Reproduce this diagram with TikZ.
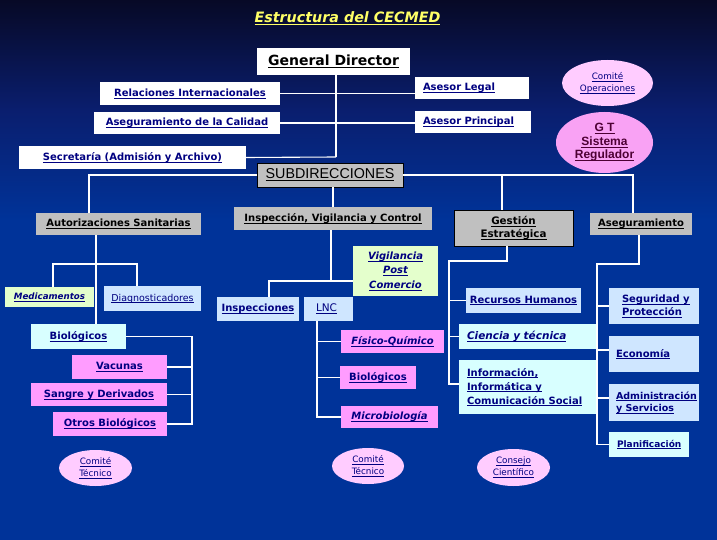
\documentclass[tikz,border=0pt]{standalone}
\usepackage{fontspec}
\setmainfont{DejaVu Sans}
\newfontfamily\lib{Liberation Sans}
\usetikzlibrary{shapes.geometric}
\definecolor{navy}{HTML}{000080}
\definecolor{lgreen}{HTML}{E4FFCC}
\definecolor{lblue}{HTML}{CFE6FF}
\definecolor{lcyan}{HTML}{D8FFFF}
\definecolor{pinkb}{HTML}{FF9CFF}
\definecolor{lpink}{HTML}{FFCCFF}
\definecolor{gtpink}{HTML}{F9A2F4}
\definecolor{greyb}{HTML}{C0C0C0}
\definecolor{bgblue}{HTML}{003399}
\definecolor{bgtop}{HTML}{070926}
\definecolor{bgmid}{HTML}{0A1E6E}
\definecolor{ttl}{HTML}{FFFF66}
\definecolor{gttext}{HTML}{4D0033}
\newcommand\ulx[1]{\leavevmode\setbox0\hbox{#1}\rlap{\vrule height -1.3pt depth 2pt width \wd0}\box0}
\tikzset{
  bx/.style={rectangle, inner sep=0pt, outer sep=0pt, text=navy,
    font=\bfseries\fontsize{10}{12}\selectfont},
  wbox/.style={bx, fill=white},
  gbox/.style={bx, fill=greyb, text=black},
  grbox/.style={bx, fill=lgreen},
  blbox/.style={bx, fill=lblue},
  cybox/.style={bx, fill=lcyan},
  pkbox/.style={bx, fill=pinkb},
  txt/.style={inner sep=0pt, outer sep=0pt, text=navy, anchor=west, align=left},
  ell/.style={ellipse, inner sep=0pt, fill=lpink, text=navy, align=center,
    font=\fontsize{8.8}{12}\selectfont},
  ln/.style={draw=white, line width=1.1pt},
  itb/.style={font=\bfseries\itshape\fontsize{10}{12}\selectfont}
}
\begin{document}
\begin{tikzpicture}[x=1pt,y=-1pt]
\useasboundingbox (0,0) rectangle (717,540);
\shade[top color=bgtop, bottom color=bgmid] (0,0) rectangle (717,110);
\shade[top color=bgmid, bottom color=bgblue] (0,109.5) rectangle (717,220);
\fill[bgblue] (0,219.5) rectangle (717,540);

% title
\node[text=ttl, font=\bfseries\itshape\fontsize{14.3}{17}\selectfont] (title) at (347.5,18) {\ulx{Estructura del CECMED}};

% top level
\node[wbox, text=black, minimum width=153, minimum height=27, font=\bfseries\fontsize{14}{16}\selectfont] (gd) at (333.5,61.5) {\ulx{General Director}};
\node[wbox, minimum width=180, minimum height=23] (rel) at (190,93.5) {\ulx{Relaciones Internacionales}};
\node[wbox, minimum width=186, minimum height=22] (aseg) at (187,123) {\ulx{Aseguramiento de la Calidad}};
\node[wbox, minimum width=227, minimum height=23] (sec) at (132.5,157.5) {\ulx{Secretaría (Admisión y Archivo)}};
\node[wbox, minimum width=114, minimum height=22, text width=98, align=left] (asl) at (472,88) {\ulx{Asesor Legal}};
\node[wbox, minimum width=116, minimum height=22, text width=100, align=left] (asp) at (473,122) {\ulx{Asesor Principal}};

\node[ell, minimum width=91, minimum height=46] (cop) at (607.5,83) {\ulx{Comité}\\\ulx{Operaciones}};
\node[ell, fill=gtpink, text=gttext, minimum width=97, minimum height=61, font=\lib\bfseries\fontsize{12}{13.5}\selectfont] (gt) at (604.5,142.5) {\ulx{G T}\\\ulx{Sistema}\\\ulx{Regulador}};

\node[gbox, draw=black, line width=0.8pt, minimum width=146, minimum height=24, font=\lib\fontsize{14.3}{16}\selectfont] (sub) at (330,175) {\ulx{SUBDIRECCIONES}};

% subdirecciones
\node[gbox, minimum width=165, minimum height=22] (aut) at (118.5,224) {\ulx{Autorizaciones Sanitarias}};
\node[gbox, minimum width=198, minimum height=23] (ivc) at (333,218.5) {\ulx{Inspección, Vigilancia y Control}};
\node[gbox, draw=black, line width=0.8pt, minimum width=119, minimum height=36, align=center, font=\bfseries\fontsize{10.3}{13}\selectfont] (ges) at (513.5,228) {\ulx{Gestión}\\\ulx{Estratégica}};
\node[gbox, minimum width=102, minimum height=22] (asg) at (641,224) {\ulx{Aseguramiento}};

% autorizaciones
\node[grbox, minimum width=89, minimum height=20, font=\bfseries\itshape\fontsize{8.7}{10}\selectfont] (med) at (49.5,297) {\ulx{Medicamentos}};
\node[blbox, minimum width=97, minimum height=25, font=\fontsize{9.5}{11}\selectfont] (dia) at (152.5,298.5) {\ulx{Diagnosticadores}};
\node[cybox, minimum width=95, minimum height=25] (bio1) at (78.5,336.5) {\ulx{Biológicos}};
\node[pkbox, minimum width=95, minimum height=24] (vac) at (119.5,367) {\ulx{Vacunas}};
\node[pkbox, minimum width=136, minimum height=23] (san) at (99,394.5) {\ulx{Sangre y Derivados}};
\node[pkbox, minimum width=114, minimum height=24] (otr) at (110,424) {\ulx{Otros Biológicos}};
\node[ell, minimum width=73, minimum height=36] (ct1) at (95.5,468) {\ulx{Comité}\\\ulx{Técnico}};

% inspeccion
\node[grbox, minimum width=85, minimum height=50, align=center, font=\bfseries\itshape\fontsize{10}{14.5}\selectfont] (vpc) at (395.5,271) {\ulx{Vigilancia}\\\ulx{Post}\\\ulx{Comercio}};
\node[blbox, minimum width=82, minimum height=24] (ins) at (258,309) {\ulx{Inspecciones}};
\node[blbox, minimum width=49, minimum height=24, text width=25, align=left, font=\fontsize{10.5}{12}\selectfont] (lnc) at (328.5,309) {\ulx{LNC}};
\node[pkbox, itb, minimum width=103, minimum height=23] (fq) at (392.5,341.5) {\ulx{Físico-Químico}};
\node[pkbox, minimum width=76, minimum height=23] (bio2) at (378,377.5) {\ulx{Biológicos}};
\node[pkbox, itb, minimum width=97, minimum height=22] (mic) at (389.5,417) {\ulx{Microbiología}};
\node[ell, minimum width=72, minimum height=36] (ct2) at (368,466) {\ulx{Comité}\\\ulx{Técnico}};
\node[ell, minimum width=73, minimum height=37] (cc) at (513.5,467.5) {\ulx{Consejo}\\\ulx{Científico}};

% gestion
\node[blbox, minimum width=115, minimum height=25] (rh) at (523.5,300.5) {\ulx{Recursos Humanos}};
\node[cybox, minimum width=138, minimum height=25, text width=122, align=left, font=\bfseries\itshape\fontsize{10.5}{12}\selectfont] (cyt) at (528,336.5) {\ulx{Ciencia y técnica}};
\node[cybox, minimum width=138, minimum height=54, text width=122, align=left, font=\bfseries\fontsize{10}{14}\selectfont] (inf) at (528,387) {\ulx{Información,}\\\ulx{Informática y}\\\ulx{Comunicación Social}};

% aseguramiento
\node[blbox, minimum width=90, minimum height=36] (seg) at (654,306) {};
\node[txt, font=\bfseries\fontsize{10}{13}\selectfont] (segt) at (622,306) {\ulx{Seguridad y}\\\ulx{Protección}};
\node[blbox, minimum width=90, minimum height=36, text width=76, align=left] (eco) at (654,354) {\ulx{Economía}};
\node[blbox, minimum width=90, minimum height=37] (adm) at (654,402.5) {};
\node[txt, font=\bfseries\fontsize{9.5}{12.5}\selectfont] (admt) at (616,402.5) {\ulx{Administración}\\\ulx{y Servicios}};
\node[cybox, minimum width=80, minimum height=25, text width=64, align=left, font=\bfseries\fontsize{9}{11}\selectfont] (pla) at (649,444.5) {\ulx{Planificación}};

% connectors top
\coordinate (gdj) at (336,157);
\draw[ln] (gd.south -| gdj) -- (gdj);
\draw[ln] (sec.east) -- (gdj);
\draw[ln] (rel.east) -- (asl.west |- rel.east);
\draw[ln] (aseg.east) -- (asp.west |- aseg.east);

% subdirecciones
\coordinate (autin) at ([xshift=53pt]aut.north west);
\coordinate (asgin) at ([xshift=43pt]asg.north west);
\coordinate (gesin) at ([xshift=48pt]ges.north west);
\draw[ln] (sub.west) -| (autin);
\draw[ln] (sub.east) -| (asgin);
\draw[ln] (gesin |- sub.east) -- (gesin);
\draw[ln] (ivc.north |- sub.south) -- (ivc.north);

% autorizaciones
\coordinate (aj) at (96,264);
\coordinate (autout) at ([xshift=60pt]aut.south west);
\coordinate (medin) at ([xshift=3.5pt]med.north);
\coordinate (diain) at ([xshift=-15.5pt]dia.north);
\draw[ln] (autout) -- (aj |- bio1.north);
\draw[ln] (medin) |- (aj) -| (diain);
\coordinate (bj) at (192,336.5);
\draw[ln] (bio1.east) -- (bj) -- (bj |- otr.east) -- (otr.east);
\draw[ln] (vac.east) -- (bj |- vac.east);
\draw[ln] (san.east) -- (bj |- san.east);

% inspeccion
\coordinate (ij) at (331,281);
\coordinate (insin) at ([xshift=11pt]ins.north);
\draw[ln] (ivc.south -| ij) -- (ij);
\draw[ln] (insin) |- (vpc.west |- ij);
\coordinate (lj) at (317,321);
\draw[ln] (lnc.south -| lj) |- (mic.west);
\draw[ln] (fq.west) -- (lj |- fq.west);
\draw[ln] (bio2.west) -- (lj |- bio2.west);

% gestion
\coordinate (gj) at (449,261);
\coordinate (gesout) at ([xshift=-6.5pt]ges.south);
\coordinate (infin) at ([yshift=3pt]inf.west);
\draw[ln] (gesout) |- (gj) |- (infin);
\draw[ln] (rh.west) -- (gj |- rh.west);
\draw[ln] (cyt.west) -- (gj |- cyt.west);

% aseguramiento
\coordinate (sj) at (597,264);
\coordinate (asgout) at ([xshift=-2pt]asg.south);
\coordinate (ecoin) at ([yshift=4pt]eco.west);
\coordinate (admin) at ([yshift=4.5pt]adm.west);
\draw[ln] (asgout) |- (sj) |- (pla.west);
\draw[ln] (seg.west) -- (sj |- seg.west);
\draw[ln] (ecoin) -- (sj |- ecoin);
\draw[ln] (admin) -- (sj |- admin);
\end{tikzpicture}
\end{document}
